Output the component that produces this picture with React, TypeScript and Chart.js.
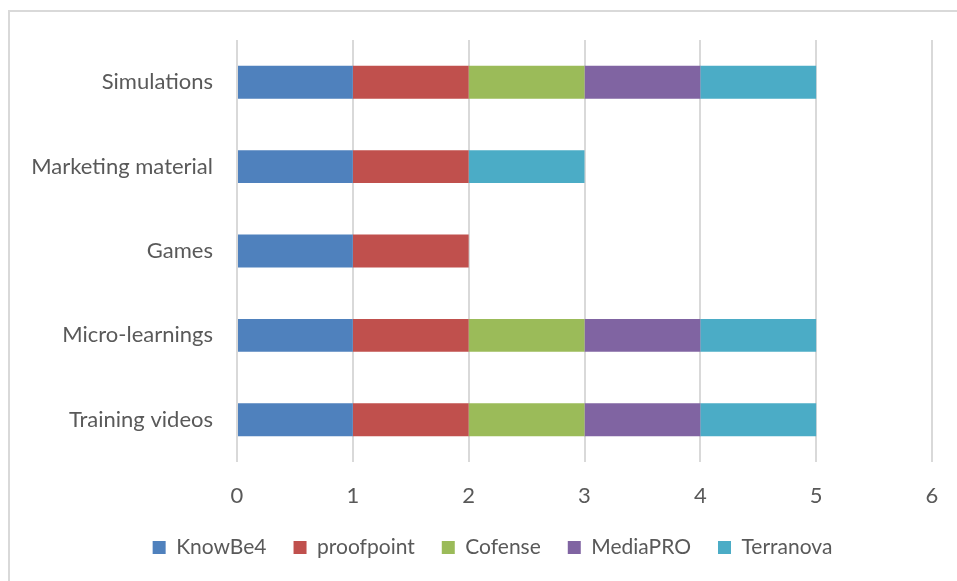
import React, { useEffect, useRef } from "react";
import { Chart, registerables } from "chart.js";

Chart.register(...registerables);

const categories = ["Simulations", "Marketing material", "Games", "Micro-learnings", "Training videos"];
const knowBe4 = [1, 1, 1, 1, 1];
const proofpoint = [1, 1, 1, 1, 1];
const cofense = [1, 0, 0, 1, 1];
const mediaPRO = [1, 0, 0, 1, 1];
const terranova = [1, 1, 0, 1, 1];
const xMin = 0;
const xMax = 6;
const xStep = 1;

const FONT = "Lato";
const TEXT = "#595959";
const GRID = "#d9d9d9";

const legendShift = {
  id: "legendShift",
  afterLayout(chart: any) {
    const lg = chart.legend;
    if (!lg) return;
    const want = 492.5;
    const d = want - (lg.left + lg.right) / 2;
    lg.left += d;
    lg.right += d;
  },
};

export default function App() {
  const ref = useRef<HTMLCanvasElement | null>(null);

  useEffect(() => {
    if (!ref.current) return;
    const mk = (label: string, data: number[], color: string) => ({
      label,
      data,
      backgroundColor: color,
      borderWidth: 0,
      barPercentage: 0.39,
      categoryPercentage: 1,
    });
    const chart = new Chart(ref.current, {
      type: "bar",
      data: {
        labels: categories,
        datasets: [
          mk("KnowBe4", knowBe4, "#4f81bd"),
          mk("proofpoint", proofpoint, "#c0504d"),
          mk("Cofense", cofense, "#9bbb59"),
          mk("MediaPRO", mediaPRO, "#8064a2"),
          mk("Terranova", terranova, "#4bacc6"),
        ],
      },
      options: {
        indexAxis: "y",
        responsive: false,
        animation: false,
        devicePixelRatio: 1,
        layout: { padding: { top: 40, right: 25, bottom: 13, left: 10 } },
        plugins: {
          tooltip: { enabled: false },
          legend: {
            position: "bottom",
            labels: {
              boxWidth: 13,
              boxHeight: 13,
              padding: 27,
              color: TEXT,
              font: { family: FONT, size: 21 },
            },
          },
        },
        scales: {
          x: {
            stacked: true,
            min: xMin,
            max: xMax,
            ticks: { stepSize: xStep, color: TEXT, padding: 21, font: { family: FONT, size: 22 } },
            grid: { color: GRID, lineWidth: 2, drawTicks: false },
            border: { display: false },
            afterFit: (s: any) => {
              s.height = 48;
              s.paddingLeft = 0;
              s.paddingRight = 0;
            },
          },
          y: {
            stacked: true,
            ticks: { color: TEXT, padding: 24, font: { family: FONT, size: 22 } },
            grid: { display: false, drawTicks: false },
            border: { display: false },
            afterFit: (s: any) => { s.width = 227; },
          },
        },
      },
      plugins: [legendShift],
    } as any);
    return () => chart.destroy();
  }, []);

  return (
    <div style={{ position: "fixed", left: 0, top: 0, width: 957, height: 581, overflow: "hidden", background: "#fff" }}>
      <div
        style={{
          position: "absolute",
          left: 8,
          top: 10,
          width: 2000,
          height: 2000,
          border: `2px solid ${GRID}`,
        }}
      />
      <canvas ref={ref} width={957} height={581} style={{ position: "absolute", left: 0, top: 0 }} />
    </div>
  );
}
